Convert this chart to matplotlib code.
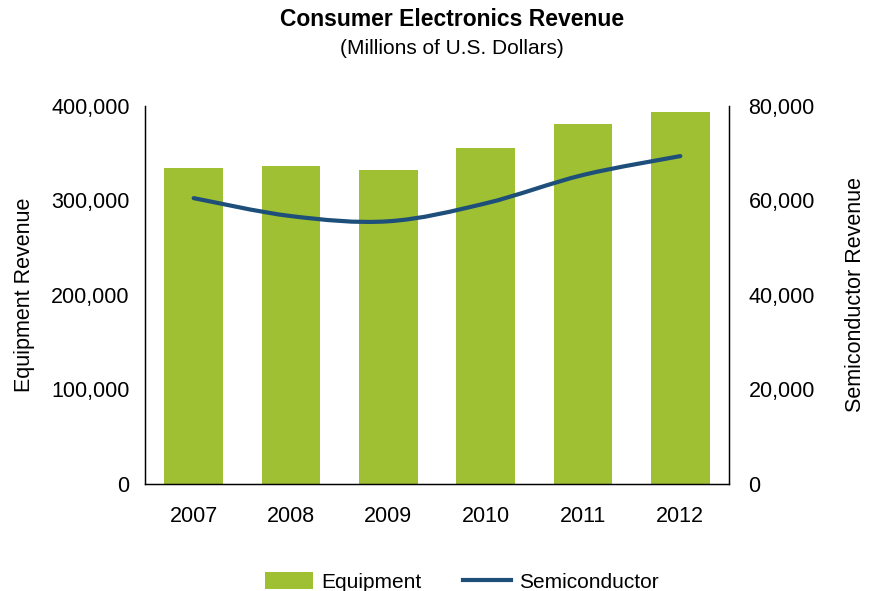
import numpy as np
import matplotlib
matplotlib.use('Agg')
import matplotlib.pyplot as plt
from matplotlib.path import Path
from matplotlib.patches import PathPatch, Patch
from matplotlib.lines import Line2D
from matplotlib.ticker import FuncFormatter

# Chart data (millions of U.S. dollars)
years = ['2007', '2008', '2009', '2010', '2011', '2012']
equipment = [334500, 336500, 332500, 355500, 381000, 394000]
semiconductor = [60500, 56700, 55600, 59400, 65400, 69400]

bar_color = '#9EC032'
line_color = '#1D4F7A'

plt.rcParams['font.family'] = ['Liberation Sans', 'DejaVu Sans']

fig = plt.figure(figsize=(8.76, 5.91), dpi=100)
ax = fig.add_axes([145/876, 1-484/591, (729-145)/876, (484-106)/591])
ax2 = ax.twinx()

x = np.arange(len(years))
ax.bar(x, equipment, width=0.6, color=bar_color, zorder=2)
ax.set_xlim(-0.5, len(years) - 0.5)
ax.set_ylim(0, 400000)
ax.set_yticks(np.arange(0, 400001, 100000))
ax2.set_ylim(0, 80000)
ax2.set_yticks(np.arange(0, 80001, 20000))

# smoothed line (Excel style) drawn as cubic Bezier through the data points
xs = x.astype(float)
ys = np.array(semiconductor, dtype=float)
verts = [(xs[0], ys[0])]
codes = [Path.MOVETO]
for i in range(len(xs) - 1):
    p0 = (xs[max(i-1, 0)], ys[max(i-1, 0)])
    p1 = (xs[i], ys[i])
    p2 = (xs[i+1], ys[i+1])
    p3 = (xs[min(i+2, len(xs)-1)], ys[min(i+2, len(xs)-1)])
    c1 = (p1[0] + (p2[0]-p0[0])/6, p1[1] + (p2[1]-p0[1])/6)
    c2 = (p2[0] - (p3[0]-p1[0])/6, p2[1] - (p3[1]-p1[1])/6)
    verts += [c1, c2, p2]
    codes += [Path.CURVE4]*3
ax2.add_patch(PathPatch(Path(verts, codes), facecolor='none', edgecolor=line_color,
                        lw=3, capstyle='round', zorder=3))

fmt = FuncFormatter(lambda v, p: f'{int(v):,}')
ax.yaxis.set_major_formatter(fmt)
ax2.yaxis.set_major_formatter(fmt)
ax.set_xticks(x)
ax.set_xticklabels(years)

for a in (ax, ax2):
    a.spines['top'].set_visible(False)
    for s in ('left', 'right', 'bottom'):
        a.spines[s].set_linewidth(0.9)
        a.spines[s].set_color('#000000')
    a.tick_params(length=0, labelsize=15.5)
ax.tick_params(axis='y', pad=11)
ax.tick_params(axis='x', pad=16)
ax2.tick_params(axis='y', pad=14)

ax.set_ylabel('Equipment Revenue', fontsize=15.5, labelpad=12)
ax2.set_ylabel('Semiconductor Revenue', fontsize=15.5, labelpad=22, rotation=90)

fig.text(452/876, 1-20/591, 'Consumer Electronics Revenue', ha='center', va='center',
         fontsize=16.5, fontweight='bold')
fig.text(452/876, 1-49/591, '(Millions of U.S. Dollars)', ha='center', va='center', fontsize=15)

handles = [Patch(facecolor=bar_color, label='Equipment'),
           Line2D([0], [0], color=line_color, lw=3, label='Semiconductor')]
fig.legend(handles=handles, loc='center', bbox_to_anchor=(462/876, 1-582/591), ncol=2,
           frameon=False, fontsize=15, handlelength=2.3, handleheight=0.9,
           columnspacing=2.0, handletextpad=0.4)

fig.savefig('out.png', dpi=100)
